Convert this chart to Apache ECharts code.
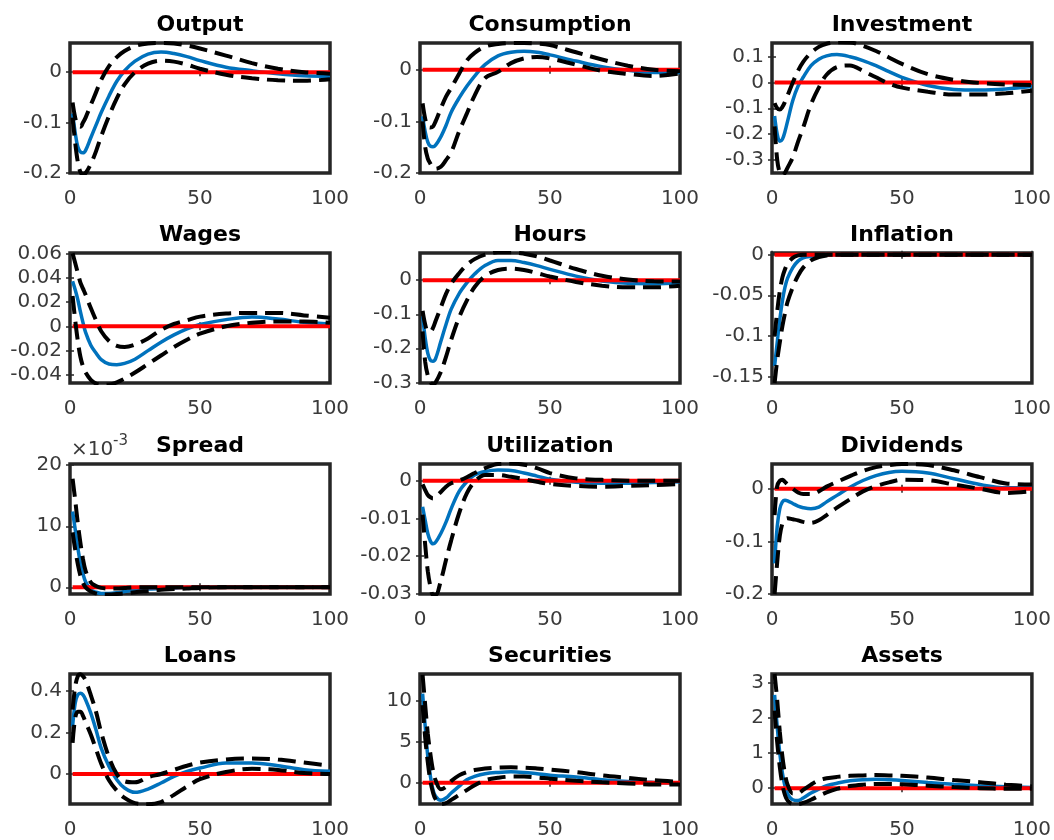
<!DOCTYPE html>
<html><head><meta charset="utf-8">
<script src="https://cdn.jsdelivr.net/npm/echarts@6/dist/echarts.min.js"></script>
<style>html,body{margin:0;padding:0;background:#fff}#c{width:1054px;height:840px}</style>
</head><body><div id="c"></div>
<script>
// horizon (periods) at which values were read
const T = [1,2,3,4,5,6,8,10,12,15,18,21,25,30,35,40,45,50,60,70,80,90,100];
const zeroX = [1, 100];
const zeroY = [0, 0];
const xTicks = [0, 50, 100];

const outputMid = [-0.082,-0.12,-0.148,-0.158,-0.16,-0.155,-0.13,-0.105,-0.08,-0.047,-0.018,0.003,0.022,0.036,0.04,0.037,0.031,0.023,0.01,0.003,-0.003,-0.007,-0.008];
const outputHi  = [-0.06,-0.09,-0.105,-0.108,-0.1,-0.09,-0.065,-0.04,-0.015,0.012,0.03,0.042,0.052,0.057,0.058,0.057,0.053,0.047,0.033,0.018,0.007,0.0,-0.003];
const outputLo  = [-0.09,-0.14,-0.178,-0.198,-0.203,-0.2,-0.182,-0.157,-0.127,-0.087,-0.052,-0.024,0.0,0.017,0.023,0.021,0.015,0.007,-0.005,-0.012,-0.016,-0.017,-0.014];

const consMid = [-0.09,-0.12,-0.14,-0.148,-0.149,-0.146,-0.13,-0.108,-0.082,-0.055,-0.032,-0.012,0.01,0.027,0.034,0.036,0.034,0.029,0.017,0.006,-0.001,-0.005,-0.005];
const consHi  = [-0.065,-0.095,-0.11,-0.112,-0.11,-0.1,-0.075,-0.052,-0.035,-0.008,0.018,0.033,0.045,0.05,0.052,0.052,0.051,0.048,0.034,0.02,0.008,0.0,-0.003];
const consLo  = [-0.1,-0.15,-0.172,-0.182,-0.19,-0.192,-0.188,-0.175,-0.16,-0.12,-0.085,-0.05,-0.016,-0.004,0.013,0.022,0.025,0.022,0.01,-0.002,-0.008,-0.012,-0.007];

const invMid = [-0.13,-0.2,-0.228,-0.22,-0.19,-0.15,-0.07,-0.015,0.02,0.065,0.09,0.103,0.108,0.1,0.085,0.065,0.042,0.02,-0.012,-0.027,-0.029,-0.025,-0.016];
const invHi  = [-0.08,-0.1,-0.105,-0.095,-0.075,-0.05,0.0,0.045,0.08,0.115,0.138,0.15,0.156,0.155,0.142,0.122,0.097,0.072,0.032,0.01,-0.002,-0.008,-0.01];
const invLo  = [-0.17,-0.3,-0.35,-0.36,-0.35,-0.33,-0.29,-0.23,-0.175,-0.085,-0.02,0.03,0.06,0.066,0.045,0.02,-0.004,-0.02,-0.036,-0.047,-0.047,-0.042,-0.032];

const wageMid = [0.037,0.03,0.022,0.012,0.003,-0.005,-0.0155,-0.022,-0.0274,-0.031,-0.0315,-0.0305,-0.027,-0.02,-0.013,-0.007,-0.002,0.0015,0.0055,0.0077,0.006,0.0033,0.002];
const wageHi  = [0.06,0.052,0.044,0.036,0.031,0.026,0.015,0.005,-0.004,-0.012,-0.016,-0.017,-0.015,-0.01,-0.003,0.002,0.005,0.008,0.0105,0.011,0.011,0.009,0.007];
const wageLo  = [0.025,0.005,-0.012,-0.025,-0.033,-0.038,-0.044,-0.047,-0.048,-0.048,-0.046,-0.043,-0.038,-0.031,-0.024,-0.017,-0.011,-0.006,0.0,0.003,0.004,0.004,0.003];

const hoursMid = [-0.106,-0.17,-0.215,-0.235,-0.238,-0.23,-0.18,-0.13,-0.085,-0.04,-0.008,0.018,0.043,0.058,0.058,0.052,0.043,0.032,0.012,-0.002,-0.009,-0.01,-0.008];
const hoursHi  = [-0.09,-0.13,-0.15,-0.15,-0.14,-0.12,-0.08,-0.04,-0.01,0.02,0.045,0.062,0.075,0.082,0.082,0.078,0.07,0.058,0.033,0.013,0.002,-0.003,-0.004];
const hoursLo  = [-0.15,-0.24,-0.28,-0.3,-0.305,-0.3,-0.27,-0.225,-0.175,-0.11,-0.06,-0.02,0.012,0.03,0.034,0.03,0.021,0.011,-0.005,-0.016,-0.021,-0.021,-0.016];

const inflMid = [-0.137,-0.108,-0.08,-0.057,-0.04,-0.029,-0.016,-0.008,-0.004,-0.002,-0.001,0,0,0,0,0,0,0,0,0,0,0,0];
const inflHi  = [-0.1,-0.07,-0.045,-0.028,-0.018,-0.011,-0.004,-0.001,0,0,0,0,0,0,0,0,0,0,0,0,0,0,0];
const inflLo  = [-0.158,-0.13,-0.108,-0.088,-0.072,-0.058,-0.04,-0.026,-0.016,-0.007,-0.003,-0.001,0,0,0,0,0,0,0,0,0,0,0];

const sprMid = [0.0124,0.0095,0.0065,0.004,0.0022,0.0009,-0.0004,-0.0008,-0.001,-0.001,-0.0009,-0.0007,-0.0005,-0.0003,-0.0002,-0.0001,0,0,0,0,0,0,0];
const sprHi  = [0.0178,0.0143,0.0105,0.0073,0.0046,0.0027,0.0008,0.0002,-0.0001,-0.0002,-0.0002,-0.0001,0,0,0,0,0,0,0,0,0,0,0];
const sprLo  = [0.009,0.0062,0.0038,0.0019,0.0007,0.0,-0.0007,-0.001,-0.0012,-0.0012,-0.0011,-0.001,-0.0008,-0.0006,-0.0004,-0.0003,-0.0002,-0.0001,0,0,0,0,0];

const utilMid = [-0.0069,-0.0105,-0.014,-0.016,-0.0167,-0.0163,-0.014,-0.011,-0.0074,-0.0029,-0.0003,0.0015,0.0024,0.0028,0.0027,0.002,0.0012,0.0004,-0.0004,-0.0007,-0.0007,-0.0005,-0.0003];
const utilHi  = [-0.001,-0.0025,-0.0038,-0.0044,-0.0047,-0.0043,-0.003,-0.0016,-0.0007,0.0,0.0009,0.002,0.0033,0.0044,0.0045,0.0042,0.0033,0.002,0.0006,0.0002,0,0,0];
const utilLo  = [-0.009,-0.017,-0.024,-0.028,-0.0302,-0.0302,-0.0265,-0.021,-0.0158,-0.0087,-0.0034,-0.0003,0.0015,0.0015,0.001,0.0004,-0.0003,-0.0009,-0.0014,-0.0016,-0.0014,-0.0012,-0.0009];

const divMid = [-0.142,-0.072,-0.038,-0.025,-0.022,-0.023,-0.028,-0.033,-0.036,-0.038,-0.035,-0.025,-0.0126,0.003,0.0157,0.025,0.031,0.033,0.03,0.019,0.008,0.002,0.003];
const divHi  = [-0.05,0.005,0.015,0.017,0.013,0.008,0.0,-0.007,-0.01,-0.01,-0.005,0.004,0.013,0.024,0.034,0.041,0.045,0.047,0.045,0.035,0.022,0.01,0.008];
const divLo  = [-0.2,-0.14,-0.09,-0.066,-0.058,-0.056,-0.058,-0.06,-0.063,-0.065,-0.06,-0.05,-0.036,-0.02,-0.005,0.005,0.012,0.017,0.016,0.008,0.0,-0.008,-0.005];

const loanMid = [0.229,0.341,0.381,0.389,0.381,0.357,0.293,0.213,0.125,0.037,-0.027,-0.067,-0.088,-0.072,-0.043,-0.011,0.013,0.029,0.053,0.053,0.04,0.021,0.013];
const loanHi  = [0.31,0.42,0.47,0.48,0.47,0.45,0.38,0.3,0.2,0.08,0.0,-0.035,-0.04,-0.015,0.0,0.02,0.04,0.055,0.07,0.075,0.07,0.055,0.04];
const loanLo  = [0.15,0.27,0.3,0.3,0.28,0.25,0.19,0.12,0.05,-0.03,-0.08,-0.115,-0.14,-0.145,-0.135,-0.1,-0.06,-0.025,0.01,0.025,0.02,0.005,0.0];

const secMid = [10.9,6.9,3.2,0.8,-0.85,-1.67,-2.15,-1.87,-1.26,-0.45,0.37,0.77,1.1,1.26,1.34,1.26,1.1,0.93,0.69,0.37,0.16,0.04,-0.04];
const secHi  = [13.2,9.5,6.0,3.5,1.5,0.3,-0.8,-0.5,0.2,0.9,1.3,1.55,1.75,1.85,1.88,1.85,1.75,1.62,1.3,0.9,0.6,0.3,0.1];
const secLo  = [9.5,5.5,2.5,0.2,-1.2,-2.0,-2.6,-2.5,-2.1,-1.5,-0.9,-0.3,0.3,0.6,0.75,0.75,0.65,0.5,0.25,0.05,-0.1,-0.2,-0.2];

const assetMid = [2.65,1.75,0.99,0.43,0.05,-0.16,-0.33,-0.35,-0.28,-0.14,-0.03,0.07,0.14,0.21,0.24,0.25,0.24,0.22,0.16,0.11,0.07,0.04,0.02];
const assetHi  = [3.24,2.5,1.6,0.9,0.4,0.1,-0.15,-0.15,-0.05,0.1,0.22,0.28,0.32,0.35,0.36,0.37,0.36,0.35,0.3,0.23,0.17,0.1,0.05];
const assetLo  = [2.2,1.3,0.6,0.1,-0.2,-0.35,-0.45,-0.45,-0.42,-0.33,-0.22,-0.12,-0.02,0.06,0.1,0.12,0.12,0.11,0.07,0.03,0.0,-0.02,-0.02];

const titles = ['Output','Consumption','Investment','Wages','Hours','Inflation','Spread','Utilization','Dividends','Loans','Securities','Assets'];
const mids = [outputMid,consMid,invMid,wageMid,hoursMid,inflMid,sprMid,utilMid,divMid,loanMid,secMid,assetMid];
const his  = [outputHi,consHi,invHi,wageHi,hoursHi,inflHi,sprHi,utilHi,divHi,loanHi,secHi,assetHi];
const los  = [outputLo,consLo,invLo,wageLo,hoursLo,inflLo,sprLo,utilLo,divLo,loanLo,secLo,assetLo];
const yMins = [-0.2,-0.2,-0.351,-0.0466,-0.302,-0.158,-0.0011,-0.03,-0.2,-0.144,-2.6,-0.45];
const yMaxs = [0.058,0.052,0.153,0.0603,0.08,0.002,0.0202,0.0044,0.047,0.481,13.3,3.24];
const yTicks = [
  [-0.2,-0.1,0],[-0.2,-0.1,0],[-0.3,-0.2,-0.1,0,0.1],
  [-0.04,-0.02,0,0.02,0.04,0.06],[-0.3,-0.2,-0.1,0],[-0.15,-0.1,-0.05,0],
  [0,0.01,0.02],[-0.03,-0.02,-0.01,0],[-0.2,-0.1,0],
  [0,0.2,0.4],[0,5,10],[0,1,2,3]
];
const yScale = [1,1,1,1,1,1,1000,1,1,1,1,1];

// layout
const colLeft = [70, 420, 772];
const rowTop = [43, 253, 464, 674];
const W = 260, H = 130;
const FONT = "'DejaVu Sans', sans-serif";
const FRAME = '#262626';

const grid = [], xAxis = [], yAxis = [], series = [], title = [];
const pairs = (xs, ys) => xs.map((x, i) => [x, ys[i]]);

titles.forEach((name, i) => {
  const r = Math.floor(i / 3), c = i % 3;
  grid.push({left: colLeft[c], top: rowTop[r], width: W, height: H, show: true,
    borderColor: FRAME, borderWidth: 3.5, backgroundColor: 'transparent', containLabel: false});
  title.push({text: name, left: colLeft[c] + W / 2, top: rowTop[r] - 18, textAlign: 'center',
    textVerticalAlign: 'middle', padding: 0,
    textStyle: {fontSize: 22, fontWeight: 'bold', color: '#000', fontFamily: FONT}});
  const tick = {show: true, inside: true, length: 4, lineStyle: {color: FRAME, width: 1.5}};
  xAxis.push({gridIndex: i, type: 'value', min: 0, max: 100, interval: 50, position: 'bottom',
    axisLine: {show: false}, splitLine: {show: false}, axisTick: tick,
    axisLabel: {fontSize: 20, color: '#3a3a3a', fontFamily: FONT, margin: 16}});
  xAxis.push({gridIndex: i, type: 'value', min: 0, max: 100, interval: 50, position: 'top',
    axisLine: {show: false}, splitLine: {show: false}, axisTick: tick, axisLabel: {show: false}});
  const sc = yScale[i];
  const fmt = v => String(Number((v * sc).toFixed(6)));
  yAxis.push({gridIndex: i, type: 'value', min: yMins[i], max: yMaxs[i], position: 'left',
    axisLine: {show: false}, splitLine: {show: false},
    axisTick: Object.assign({}, tick, {customValues: yTicks[i]}),
    axisLabel: {customValues: yTicks[i], formatter: fmt, fontSize: 20, color: '#3a3a3a', fontFamily: FONT, margin: 8}});
  yAxis.push({gridIndex: i, type: 'value', min: yMins[i], max: yMaxs[i], position: 'right',
    axisLine: {show: false}, splitLine: {show: false},
    axisTick: Object.assign({}, tick, {customValues: yTicks[i]}), axisLabel: {show: false}});
  const base = {type: 'line', xAxisIndex: 2 * i, yAxisIndex: 2 * i, showSymbol: false, silent: true, clip: true};
  series.push(Object.assign({}, base, {data: pairs(T, mids[i]), smooth: 0.35, z: 2,
    lineStyle: {color: '#0072BD', width: 3.5}}));
  series.push(Object.assign({}, base, {data: pairs(zeroX, zeroY), z: 3,
    lineStyle: {color: '#FF0000', width: 4}}));
  series.push(Object.assign({}, base, {data: pairs(T, los[i]), smooth: 0.35, z: 4,
    lineStyle: {color: '#000000', width: 4, type: [18, 8]}}));
  series.push(Object.assign({}, base, {data: pairs(T, his[i]), smooth: 0.35, z: 4,
    lineStyle: {color: '#000000', width: 4, type: [18, 8]}}));
});

const chart = echarts.init(document.getElementById('c'), null, {renderer: 'canvas'});
chart.setOption({
  animation: false,
  backgroundColor: '#ffffff',
  title, grid, xAxis, yAxis, series,
  graphic: [
    {type: 'text', x: 71, y: 450, style: {text: '×10', font: "20px 'DejaVu Sans', sans-serif", fill: '#3a3a3a', align: 'left', verticalAlign: 'middle'}},
    {type: 'text', x: 113, y: 441, style: {text: '-3', font: "15px 'DejaVu Sans', sans-serif", fill: '#3a3a3a', align: 'left', verticalAlign: 'middle'}}
  ]
});
</script>
</body></html>
